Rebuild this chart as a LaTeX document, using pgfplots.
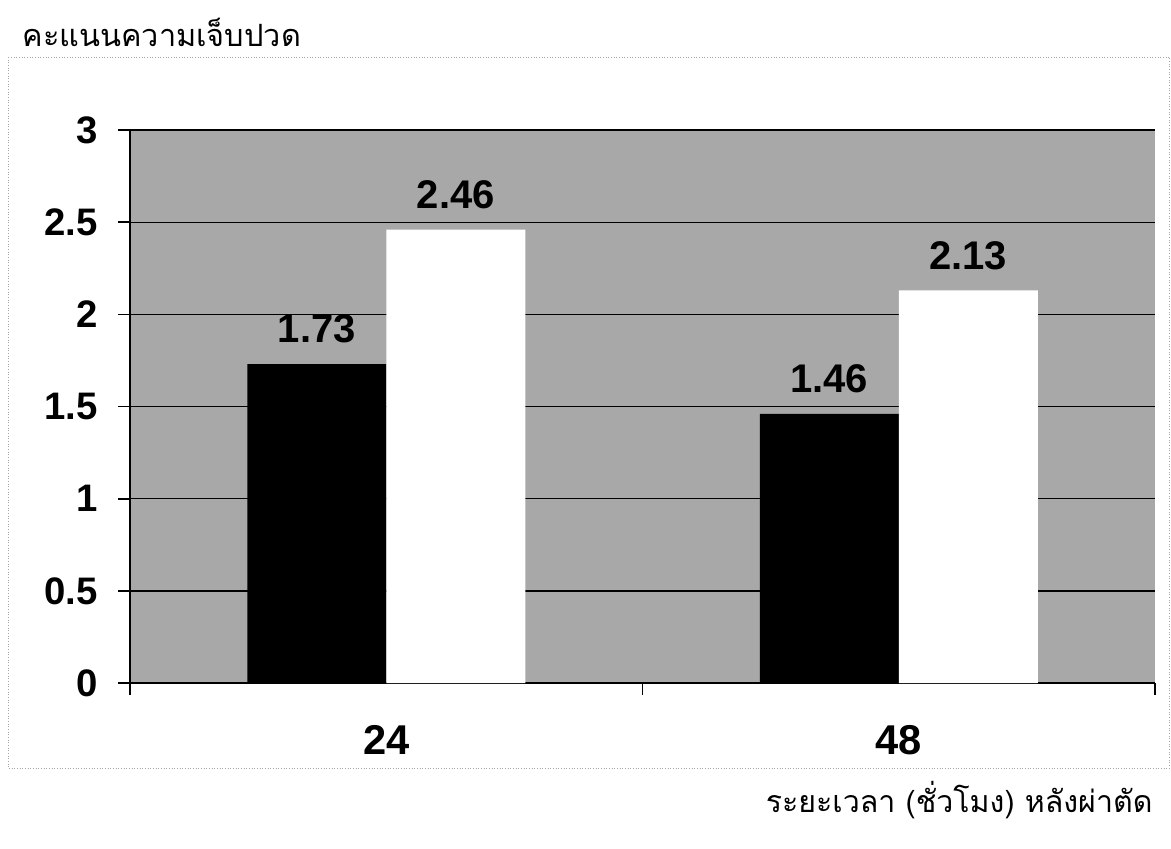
\documentclass[border=0pt]{standalone}
\usepackage{fontspec}
\setmainfont{Liberation Sans}
\newfontfamily\thaifont[Script=Thai]{Loma}
\usepackage{pgfplots}
\pgfplotsset{compat=1.18}
\definecolor{bggray}{RGB}{168,168,168}
\begin{document}
\begin{tikzpicture}
\useasboundingbox (0,0) rectangle (702.6pt,-509.4pt);
% outer frame
\draw[gray!70, densely dotted, line width=0.6pt] (4.8pt,-34.2pt) rectangle (701.8pt,-460.8pt);
\node[anchor=west, font=\thaifont\fontsize{18.4}{20}\selectfont] at (10pt,-19.2pt) {คะแนนความเจ็บปวด};
\node[anchor=east, font=\thaifont\fontsize{18.2}{20}\selectfont] at (695pt,-480pt) {ระยะเวลา (ชั่วโมง) หลังผ่าตัด};
\begin{axis}[
  at={(78pt,-409.8pt)}, anchor=south west,
  scale only axis, width=615pt, height=331.8pt,
  ybar=0pt, bar width=83.4pt,
  xmin=-0.5, xmax=1.5, ymin=0, ymax=3,
  ytick={0,0.5,1,1.5,2,2.5,3},
  yticklabels={0,0.5,1,1.5,2,2.5,3},
  xtick={0,1}, xticklabels={24,48},
  minor xtick={-0.5,0.5,1.5},
  axis x line*=bottom, axis y line*=left,
  tick align=outside,
  major x tick style={draw=none},
  major tick length=7pt, minor tick length=7pt,
  ymajorgrids, grid style={black, line width=0.8pt},
  axis background/.style={fill=bggray},
  axis line style={black, line width=1pt},
  tick style={black, line width=1pt},
  yticklabel style={font=\bfseries\fontsize{23}{23}\selectfont, xshift=-9pt},
  xticklabel style={font=\bfseries\fontsize{25}{25}\selectfont, yshift=-15pt},
  nodes near coords={\pgfmathprintnumber[fixed,fixed zerofill,precision=2]{\pgfplotspointmeta}},
  every node near coord/.append style={font=\bfseries\fontsize{24}{24}\selectfont, black, yshift=9pt},
  /pgf/number format/assume math mode=true,
]
\addplot[fill=black, draw=none] coordinates {(0,1.73) (1,1.46)};
\addplot[fill=white, draw=none] coordinates {(0,2.46) (1,2.13)};
\end{axis}
\end{tikzpicture}
\end{document}
